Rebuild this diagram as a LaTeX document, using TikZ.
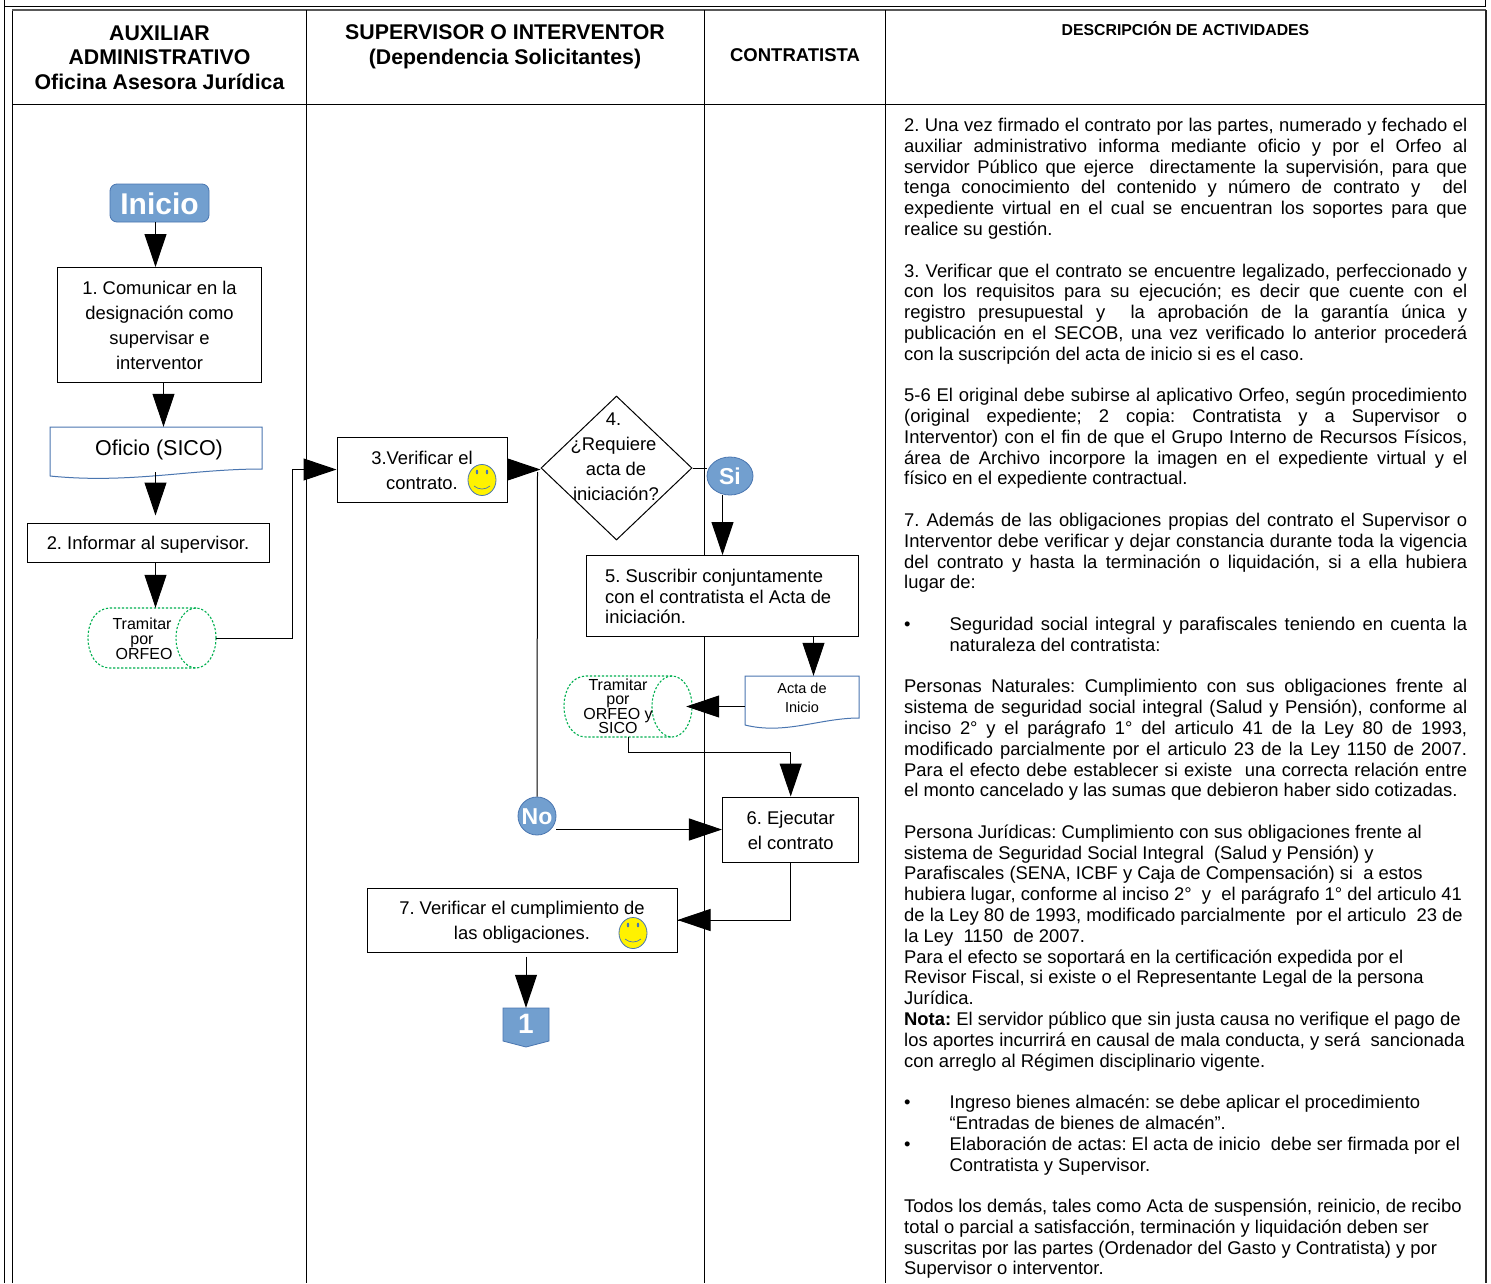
\documentclass[tikz,border=0pt]{standalone}
\usepackage{fontspec}
\setmainfont{Liberation Sans}
\usetikzlibrary{arrows.meta,shapes.geometric}
\definecolor{flowblue}{HTML}{729FCF}
\definecolor{edgeblue}{HTML}{4A76B0}
\definecolor{dotgreen}{HTML}{00B050}
\newcommand{\fsz}[2]{\fontsize{#1pt}{#2pt}\selectfont\frenchspacing}
\newcommand{\jl}[1]{\hbox to 563pt{#1}}
\newcommand{\lft}[1]{\hbox{#1}}
\newcommand{\bln}{\hbox{}}
\newcommand{\bul}[1]{\hbox to 563pt{\hbox to 45.5pt{•\hss}#1}}
\newcommand{\bulc}[1]{\hbox{\hskip 45.5pt #1}}
\tikzset{
  lane/.style={line width=1pt,black},
  flowbox/.style={draw=black,fill=white,line width=1pt,inner sep=0pt},
  plain/.style={inner sep=0pt,align=center},
  flowtext/.style={plain,font=\fsz{18.4}{25}},
  conn/.style={line width=1pt,black},
  arr/.style={conn,-{Triangle[length=33pt,width=22pt]}},
  docshape/.style={draw=edgeblue,line width=1pt},
  cyl/.style={draw=dotgreen,line width=1.1pt,dash pattern=on 2.2pt off 1.8pt},
  badge/.style={fill=flowblue,draw=edgeblue,line width=.8pt,text=white,inner sep=0pt,font=\fsz{23}{25}\bfseries},
  badgetext/.style={plain,text=white,font=\fsz{23}{25}\bfseries},
  smile/.style={ellipse,draw=edgeblue,fill=yellow,line width=.8pt,minimum width=28pt,minimum height=31pt,inner sep=0pt},
  head/.style={plain,font=\fsz{21.3}{24.6}\bfseries},
}
\newcommand{\smileface}[2]{%
  \fill[edgeblue] (#1-5,#2-8) ellipse [x radius=1.2pt,y radius=2.4pt];
  \fill[edgeblue] (#1+5,#2-8) ellipse [x radius=1.2pt,y radius=2.4pt];
  \draw[edgeblue,line width=.7pt] (#1-8,#2+6) .. controls (#1-3,#2+10) and (#1+3,#2+10) .. (#1+8,#2+6);
}
\begin{document}
\begin{tikzpicture}[x=1pt,y=-1pt]
\useasboundingbox (0,0) rectangle (1491,1283);
\fill[white] (0,0) rectangle (1491,1283);
% frame
\draw[lane] (4.5,1283) -- (4.5,0);
\draw[lane] (4.5,6) -- (1485,6) -- (1485,0);
\draw[lane,line width=1.2pt] (12.5,1283) -- (12.5,10);
\draw[line width=1.6pt,black!65] (12,10) -- (1486,10);
\draw[line width=2pt,black!85] (1486,10) -- (1486,1283);
\draw[lane] (12,104) -- (1485,104);
\draw[lane] (306,10) -- (306,1283);
\draw[lane] (704,10) -- (704,1283);
\draw[lane] (885,10) -- (885,1283);
% headers
\node[head] (h1) at (159.5,57.5) {AUXILIAR\\ADMINISTRATIVO\\Oficina Asesora Jurídica};
\node[head] (h2) at (505,47) {SUPERVISOR O INTERVENTOR\\(Dependencia Solicitantes)};
\node[plain,font=\fsz{18.5}{22}\bfseries] (h3) at (795,55.5) {CONTRATISTA};
\node[plain,font=\fsz{15.8}{20}\bfseries] (h4) at (1185.5,28.5) {DESCRIPCIÓN DE ACTIVIDADES};
% left lane
\node[badge,rounded corners=7pt,minimum width=99pt,minimum height=38pt] (inicio) at (159.5,203) {};
\node[badgetext,font=\fsz{30}{32}\bfseries] (iniciot) at (159.5,204) {Inicio};
\node[flowbox,minimum width=204pt,minimum height=115pt] (n1) at (159.5,325) {};
\node[flowtext] (n1t) at (159.5,325) {1. Comunicar en la\\designación como\\supervisar e\\interventor};
\node[plain,minimum width=212pt,minimum height=53pt] (doc1) at (156,453.5) {};
\draw[docshape] (50,476) -- (50,427) -- (262,427) -- (262,469) .. controls (190,469) and (130,484) .. (50,476);
\node[plain,font=\fsz{21.5}{24}] (doc1t) at (159,450) {Oficio (SICO)};
\node[flowbox,minimum width=242pt,minimum height=39pt] (n2) at (148,542.5) {};
\node[flowtext] (n2t) at (148,544.5) {2. Informar al supervisor.};
\node[plain,minimum width=128pt,minimum height=60pt] (cy1) at (152,638) {};
\draw[cyl] (196,608) -- (110,608) .. controls (96,608) and (88,622) .. (88,638) .. controls (88,654) and (96,668) .. (110,668) -- (196,668);
\draw[cyl] (196,638) ellipse [x radius=20pt,y radius=30pt];
\node[plain,font=\fsz{16}{14.9}] (cy1t) at (142,639) {Tramitar\\por\\\hspace*{4pt}ORFEO};
% middle lane
\node[flowbox,minimum width=170pt,minimum height=65pt] (n3) at (422,469.5) {};
\node[flowtext] (n3t) at (422,470.5) {3.Verificar el\\contrato.};
\node[smile] (s1) at (482,480) {};
\smileface{482}{480}
\node[diamond,draw=black,line width=1pt,minimum width=151pt,minimum height=144pt,aspect=1.05,inner sep=0pt] (d4) at (616.5,468) {};
\node[plain,font=\fsz{18.4}{25}] (d4t) at (616,456.5) {\hspace*{-5pt}4.\\\hspace*{-5pt}¿Requiere\\acta de\\iniciación?};
\node[badge,ellipse,minimum width=46pt,minimum height=38pt] (si) at (730,476) {Si};
\node[flowbox,minimum width=272.5pt,minimum height=81pt] (n5) at (722.7,596) {};
\node[plain,anchor=west,align=left,font=\fsz{18.4}{20.6}] (n5t) at (605,596.5) {5. Suscribir conjuntamente\\con el contratista el Acta de\\iniciación.};
\node[plain,minimum width=114pt,minimum height=53pt] (doc2) at (802,702.5) {};
\draw[docshape] (745,725) -- (745,676) -- (859,676) -- (859,718) .. controls (820,718) and (785,735) .. (745,725);
\node[plain,font=\fsz{14.5}{19}] (doc2t) at (802,697.5) {Acta de\\Inicio};
\node[plain,minimum width=128pt,minimum height=61pt] (cy2) at (628,706.5) {};
\draw[cyl] (672,676) -- (586,676) .. controls (572,676) and (564,690) .. (564,706) .. controls (564,722) and (572,737) .. (586,737) -- (672,737);
\draw[cyl] (672,706.5) ellipse [x radius=20pt,y radius=30.5pt];
\node[plain,font=\fsz{16}{14.5}] (cy2t) at (618,706.5) {Tramitar\\por\\ORFEO y\\SICO};
\node[badge,circle,minimum size=38pt] (no) at (537,816) {};
\node[badgetext] (not) at (537,817) {No};
\node[flowbox,minimum width=136.5pt,minimum height=65pt] (n6) at (790.7,829.5) {};
\node[flowtext] (n6t) at (790.7,830) {6. Ejecutar\\el contrato};
\node[flowbox,minimum width=310pt,minimum height=64pt] (n7) at (522,920) {};
\node[flowtext] (n7t) at (522,922) {7. Verificar el cumplimiento de\\las obligaciones.};
\node[smile] (s2) at (633,933) {};
\smileface{633}{933}
\node[plain,minimum width=46pt,minimum height=39pt] (off) at (526,1027.5) {};
\draw[fill=flowblue,draw=edgeblue,line width=.8pt] (503,1008) -- (549,1008) -- (549,1041) -- (526,1047) -- (503,1041) -- cycle;
\node[plain,text=white,font=\fsz{28}{30}\bfseries] (offt) at (526,1024) {1};
% connectors
\coordinate (j1) at (292,469.5);
\coordinate (j2) at (628,752);
\coordinate (j3) at (537.5,472);
\draw[arr] ([xshift=-4pt]inicio.south) -- ([xshift=-4pt]n1.north);
\draw[arr] ([xshift=4pt]n1.south) -- ([xshift=7.5pt]doc1.north);
\draw[arr] ([shift={(-0.5pt,8pt)}]doc1.south) -- ([shift={(7.5pt,7pt)}]n2.north);
\draw[arr] ([xshift=7.5pt]n2.south) -- ([xshift=3.5pt]cy1.north);
\draw[conn] (cy1.east) -| (j1);
\draw[arr] (j1) -- (n3.west);
\draw[arr] (n3.east) -- (n3.east -| d4.west);
\draw[conn] (d4.east) -- (si.west |- d4.east);
\draw[arr] ([xshift=-7.5pt]si.south) -- ([xshift=-0.2pt]n5.north);
\draw[arr] ([xshift=90.8pt]n5.south) -- ([xshift=11.5pt]doc2.north);
\draw[arr] ([yshift=-4pt]doc2.west) -- ([xshift=-6pt]cy2.east);
\draw[conn] (cy2.south) -- (j2) -| ([yshift=20pt]n6.north);
\draw[arr] ([yshift=20pt]n6.north) -- (n6.north);
\draw[conn] (j3) -- (no.north);
\draw[arr] (n6.west -| no.east) -- (n6.west);
\draw[conn] (n6.south) |- (n7.east);
\draw[arr] (n6.south |- n7.east) -- (n7.east);
\draw[arr] ([shift={(4pt,-4pt)}]n7.south) -- (off.north);
% description
\node[anchor=north west,inner sep=0pt,font=\fsz{18.4}{20.79}] (desc) at (904,118) {\vtop{%
\baselineskip=20.79pt \lineskiplimit=-100pt \parindent=0pt \hsize=563pt
\jl{2. Una vez firmado el contrato por las partes, numerado y fechado el}
\jl{auxiliar administrativo informa mediante oficio y por el Orfeo al}
\jl{servidor Público que ejerce~ directamente la supervisión, para que}
\jl{tenga conocimiento del contenido y número de contrato y~ del}
\jl{expediente virtual en el cual se encuentran los soportes para que}
\lft{realice su gestión.}
\bln
\jl{3. Verificar que el contrato se encuentre legalizado, perfeccionado y}
\jl{con los requisitos para su ejecución; es decir que cuente con el}
\jl{registro presupuestal y~ la aprobación de la garantía única y}
\jl{publicación en el SECOB, una vez verificado lo anterior procederá}
\lft{con la suscripción del acta de inicio si es el caso.}
\bln
\jl{5-6 El original debe subirse al aplicativo Orfeo, según procedimiento}
\jl{(original expediente; 2 copia: Contratista y a Supervisor o}
\jl{Interventor) con el fin de que el Grupo Interno de Recursos Físicos,}
\jl{área de Archivo incorpore la imagen en el expediente virtual y el}
\lft{físico en el expediente contractual.}
\bln
\jl{7. Además de las obligaciones propias del contrato el Supervisor o}
\jl{Interventor debe verificar y dejar constancia durante toda la vigencia}
\jl{del contrato y hasta la terminación o liquidación, si a ella hubiera}
\lft{lugar de:}
\bln
\bul{Seguridad social integral y parafiscales teniendo en cuenta la}
\bulc{naturaleza del contratista:}
\bln
\jl{Personas Naturales: Cumplimiento con sus obligaciones frente al}
\jl{sistema de seguridad social integral (Salud y Pensión), conforme al}
\jl{inciso 2° y el parágrafo 1° del articulo 41 de la Ley 80 de 1993,}
\jl{modificado parcialmente por el articulo 23 de la Ley 1150 de 2007.}
\jl{Para el efecto debe establecer si existe~ una correcta relación entre}
\lft{el monto cancelado y las sumas que debieron haber sido cotizadas.}
\bln
\lft{Persona Jurídicas: Cumplimiento con sus obligaciones frente al}
\lft{sistema de Seguridad Social Integral~ (Salud y Pensión) y}
\lft{Parafiscales (SENA, ICBF y Caja de Compensación) si~ a estos}
\lft{hubiera lugar, conforme al inciso 2°~ y~ el parágrafo 1° del articulo 41}
\lft{de la Ley 80 de 1993, modificado parcialmente~ por el articulo~ 23 de}
\lft{la Ley~ 1150~ de 2007.}
\lft{Para el efecto se soportará en la certificación expedida por el}
\lft{Revisor Fiscal, si existe o el Representante Legal de la persona}
\lft{Jurídica.}
\lft{\textbf{Nota:} El servidor público que sin justa causa no verifique el pago de}
\lft{los aportes incurrirá en causal de mala conducta, y será~ sancionada}
\lft{con arreglo al Régimen disciplinario vigente.}
\bln
\lft{\hbox to 45.5pt{•\hss}Ingreso bienes almacén: se debe aplicar el procedimiento}
\bulc{“Entradas de bienes de almacén”.}
\lft{\hbox to 45.5pt{•\hss}Elaboración de actas: El acta de inicio~ debe ser firmada por el}
\bulc{Contratista y Supervisor.}
\bln
\lft{Todos los demás, tales como Acta de suspensión, reinicio, de recibo}
\lft{total o parcial a satisfacción, terminación y liquidación deben ser}
\lft{suscritas por las partes (Ordenador del Gasto y Contratista) y por}
\lft{Supervisor o interventor.}
}};
\end{tikzpicture}
\end{document}
